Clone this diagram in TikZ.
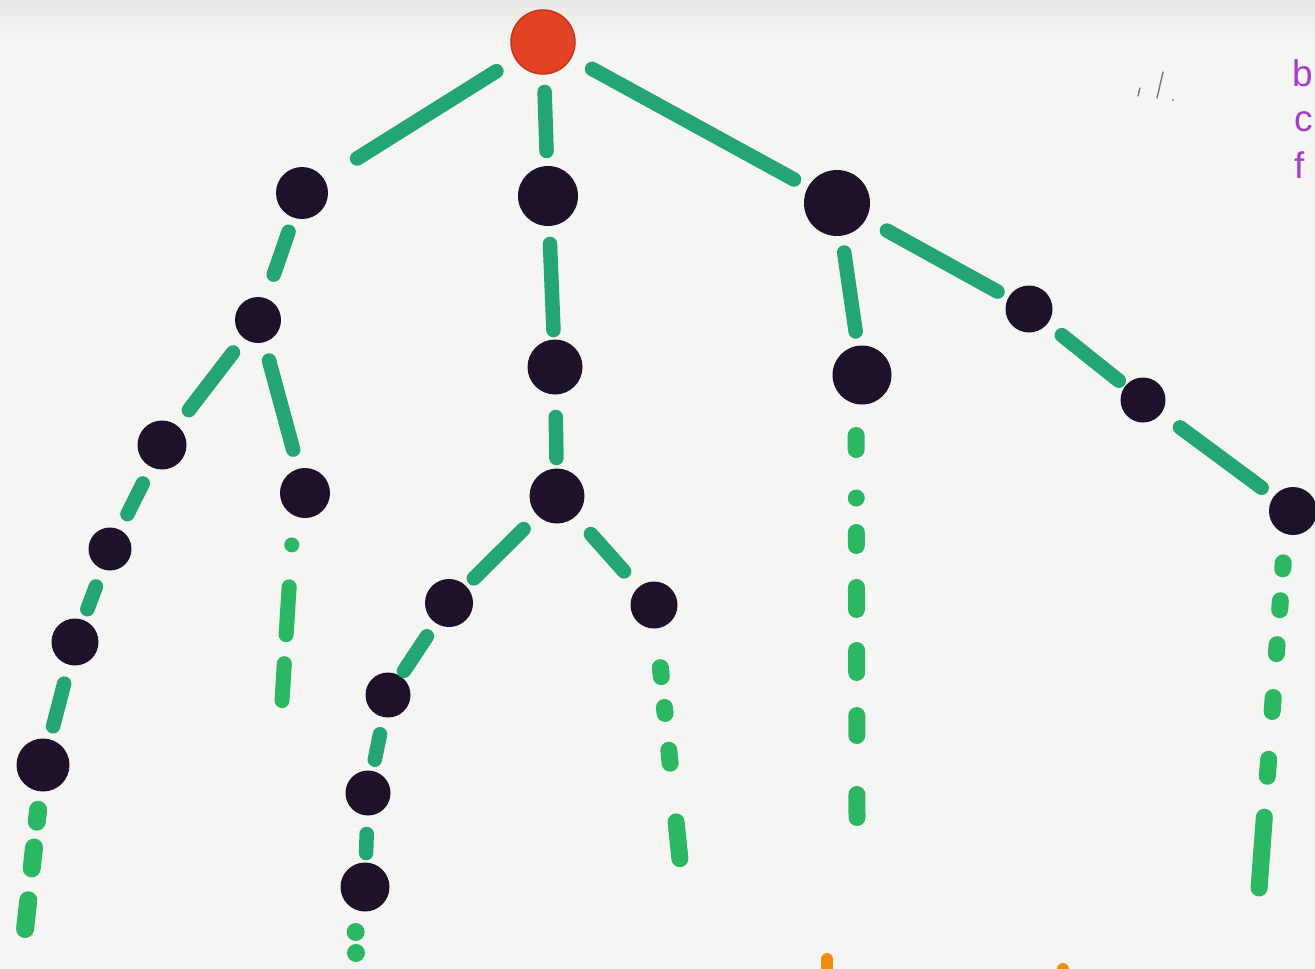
\documentclass[tikz,border=0pt]{standalone}
\usepackage{fontspec}
\setsansfont{Liberation Sans}
\definecolor{paper}{RGB}{245,245,243}
\definecolor{papertop}{RGB}{232,232,230}
\definecolor{ink}{RGB}{30,18,42}
\definecolor{rootred}{RGB}{228,66,36}
\definecolor{edgegreen}{RGB}{36,166,116}
\definecolor{dotgreen}{RGB}{44,184,98}
\definecolor{pen}{RGB}{165,62,205}
\definecolor{orangepen}{RGB}{240,140,20}
\definecolor{pencil}{RGB}{120,120,125}
\begin{document}
\begin{tikzpicture}[x=1pt,y=-1pt,
  vtx/.style={circle,fill=ink,inner sep=0pt,minimum size=#1},
  vtx/.default=46pt,
  rootvtx/.style={circle,fill=rootred,draw=rootred!85!black,line width=1.5pt,inner sep=0pt,minimum size=#1},
  treeedge/.style={draw=edgegreen,line width=14.5pt,line cap=round},
  contline/.style={draw=dotgreen,line width=#1,line cap=round},
  contline/.default=17pt,
  letter/.style={anchor=base west,text=pen,inner sep=0pt,font=\sffamily\fontsize{37}{37}\selectfont},
  orangemark/.style={draw=orangepen,line width=12pt,line cap=round},
  pencilmark/.style={draw=pencil,line width=1.4pt,line cap=round}
]
\useasboundingbox (0,0) rectangle (1315,969);
\clip (0,0) rectangle (1315,969);
\fill[paper] (0,0) rectangle (1315,969);
\shade[top color=papertop,bottom color=paper] (0,0) rectangle (1315,45);

% ---- vertices
\node[rootvtx=64pt] (R) at (543,42) {};
\node[vtx=52pt] (A) at (302,193) {};
\node[vtx=60pt] (B) at (548,196) {};
\node[vtx=66pt] (C) at (837,203) {};
\node[vtx=46pt] (A1) at (258,320) {};
\node[vtx=49pt] (A11) at (162,445) {};
\node[vtx=50pt] (A12) at (305,493) {};
\node[vtx=43pt] (A111) at (110,549) {};
\node[vtx=47pt] (A1111) at (75,642) {};
\node[vtx=53pt] (A11111) at (43,765) {};
\node[vtx=55pt] (B1) at (555,367) {};
\node[vtx=55pt] (B11) at (557,496) {};
\node[vtx=48pt] (B111) at (449,603) {};
\node[vtx=47pt] (B112) at (654,605) {};
\node[vtx=45pt] (B1111) at (388,695) {};
\node[vtx=45pt] (B11111) at (368,793) {};
\node[vtx=49pt] (B111111) at (365,887) {};
\node[vtx=59pt] (C1) at (862,375) {};
\node[vtx=47pt] (C2) at (1029,309) {};
\node[vtx=45pt] (C21) at (1143,400) {};
\node[vtx=48pt] (C211) at (1293,511) {};

% ---- end points of the dotted continuations
\coordinate (eA12) at (282,701);
\coordinate (eA11111) at (25,930);
\coordinate (eB111111) at (356,953);
\coordinate (eB112) at (680,860);
\coordinate (eC1) at (857,817.5);
\coordinate (eC211) at (1259,889);

% ---- tree edges
\draw[treeedge,shorten <=55pt,shorten >=65pt] (R.center) -- (A.center);
\draw[treeedge,shorten <=50pt,shorten >=45pt] (R.center) -- (B.center);
\draw[treeedge,shorten <=56pt,shorten >=49pt] (R.center) -- (C.center);
\draw[treeedge,shorten <=41pt,shorten >=48pt] (A.center) -- (A1.center);
\draw[treeedge,shorten <=41pt,shorten >=44pt] (A1.center) -- (A11.center);
\draw[treeedge,shorten <=42pt,shorten >=45pt] (A1.center) -- (A12.center);
\draw[treeedge,shorten <=43pt,shorten >=39pt] (A11.center) -- (A111.center);
\draw[treeedge,shorten <=40pt,shorten >=35pt] (A111.center) -- (A1111.center);
\draw[treeedge,shorten <=43pt,shorten >=40pt] (A1111.center) -- (A11111.center);
\draw[treeedge,shorten <=48pt,shorten >=37pt] (B.center) -- (B1.center);
\draw[treeedge,shorten <=50pt,shorten >=38pt] (B1.center) -- (B11.center);
\draw[treeedge,shorten <=47pt,shorten >=35pt] (B11.center) -- (B111.center);
\draw[treeedge,shorten <=51pt,shorten >=45pt] (B11.center) -- (B112.center);
\draw[treeedge,shorten <=40pt,shorten >=29pt] (B111.center) -- (B1111.center);
\draw[treeedge,shorten <=40pt,shorten >=34pt] (B1111.center) -- (B11111.center);
\draw[treeedge,shorten <=41pt,shorten >=34pt] (B11111.center) -- (B111111.center);
\draw[treeedge,shorten <=50pt,shorten >=44pt] (C.center) -- (C1.center);
\draw[treeedge,shorten <=57pt,shorten >=36pt] (C.center) -- (C2.center);
\draw[treeedge,shorten <=42pt,shorten >=31pt] (C2.center) -- (C21.center);
\draw[treeedge,shorten <=46pt,shorten >=39pt] (C21.center) -- (C211.center);

% ---- dotted continuations
\draw[contline=15pt,shorten <=52pt,
  dash pattern=on 0pt off 42pt on 48pt off 29pt on 37pt off 50pt]
  ([xshift=-10pt]A12.center) -- (eA12);
\draw[contline=18pt,shorten <=45pt,
  dash pattern=on 12pt off 26pt on 21pt off 32pt on 29pt off 50pt]
  (A11111.center) -- (eA11111);
\draw[contline=18pt,shorten <=45pt,
  dash pattern=on 0pt off 21pt on 0pt off 20pt]
  ([xshift=-10pt]B111111.center) -- (eB111111);
\draw[contline=17pt,shorten <=63pt,
  dash pattern=on 9pt off 31pt on 6pt off 37pt on 13pt off 59pt on 37pt off 50pt]
  (B112.center) -- (eB112);
\draw[contline=17pt,shorten <=60.5pt,
  dash pattern=on 14pt off 48.5pt on 0pt off 34.5pt on 13pt off 42pt on 22pt off 41pt on 22pt off 43pt on 20pt off 59pt on 23pt off 60pt]
  ([xshift=-6pt]C1.center) -- (eC1);
\draw[contline=17pt,shorten <=52pt,
  dash pattern=on 6pt off 32pt on 9pt off 35pt on 9pt off 44pt on 14pt off 48pt on 17pt off 41pt on 71pt off 50pt]
  ([xshift=-6pt]C211.center) -- (eC211);

% ---- handwritten letters at the right edge
\node[letter] (lb) at (1292,86) {b};
\node[letter] (lc) at (1294,131) {c};
\node[letter] (lf) at (1294,178) {f};

% ---- faint pencil marks
\coordinate (p1a) at (1138,96); \coordinate (p1b) at (1140,88);
\coordinate (p2a) at (1157,98); \coordinate (p2b) at (1163,72);
\coordinate (p3) at (1173,100);
\draw[pencilmark] (p1a) -- (p1b);
\draw[pencilmark] (p2a) -- (p2b);
\fill[pencil] (p3) circle (1pt);

% ---- orange marks at the bottom edge
\coordinate (o1a) at (827,959); \coordinate (o1b) at (827,980);
\coordinate (o2a) at (1063,969); \coordinate (o2b) at (1063,985);
\draw[orangemark] (o1a) -- (o1b);
\draw[orangemark] (o2a) -- (o2b);
\end{tikzpicture}
\end{document}
